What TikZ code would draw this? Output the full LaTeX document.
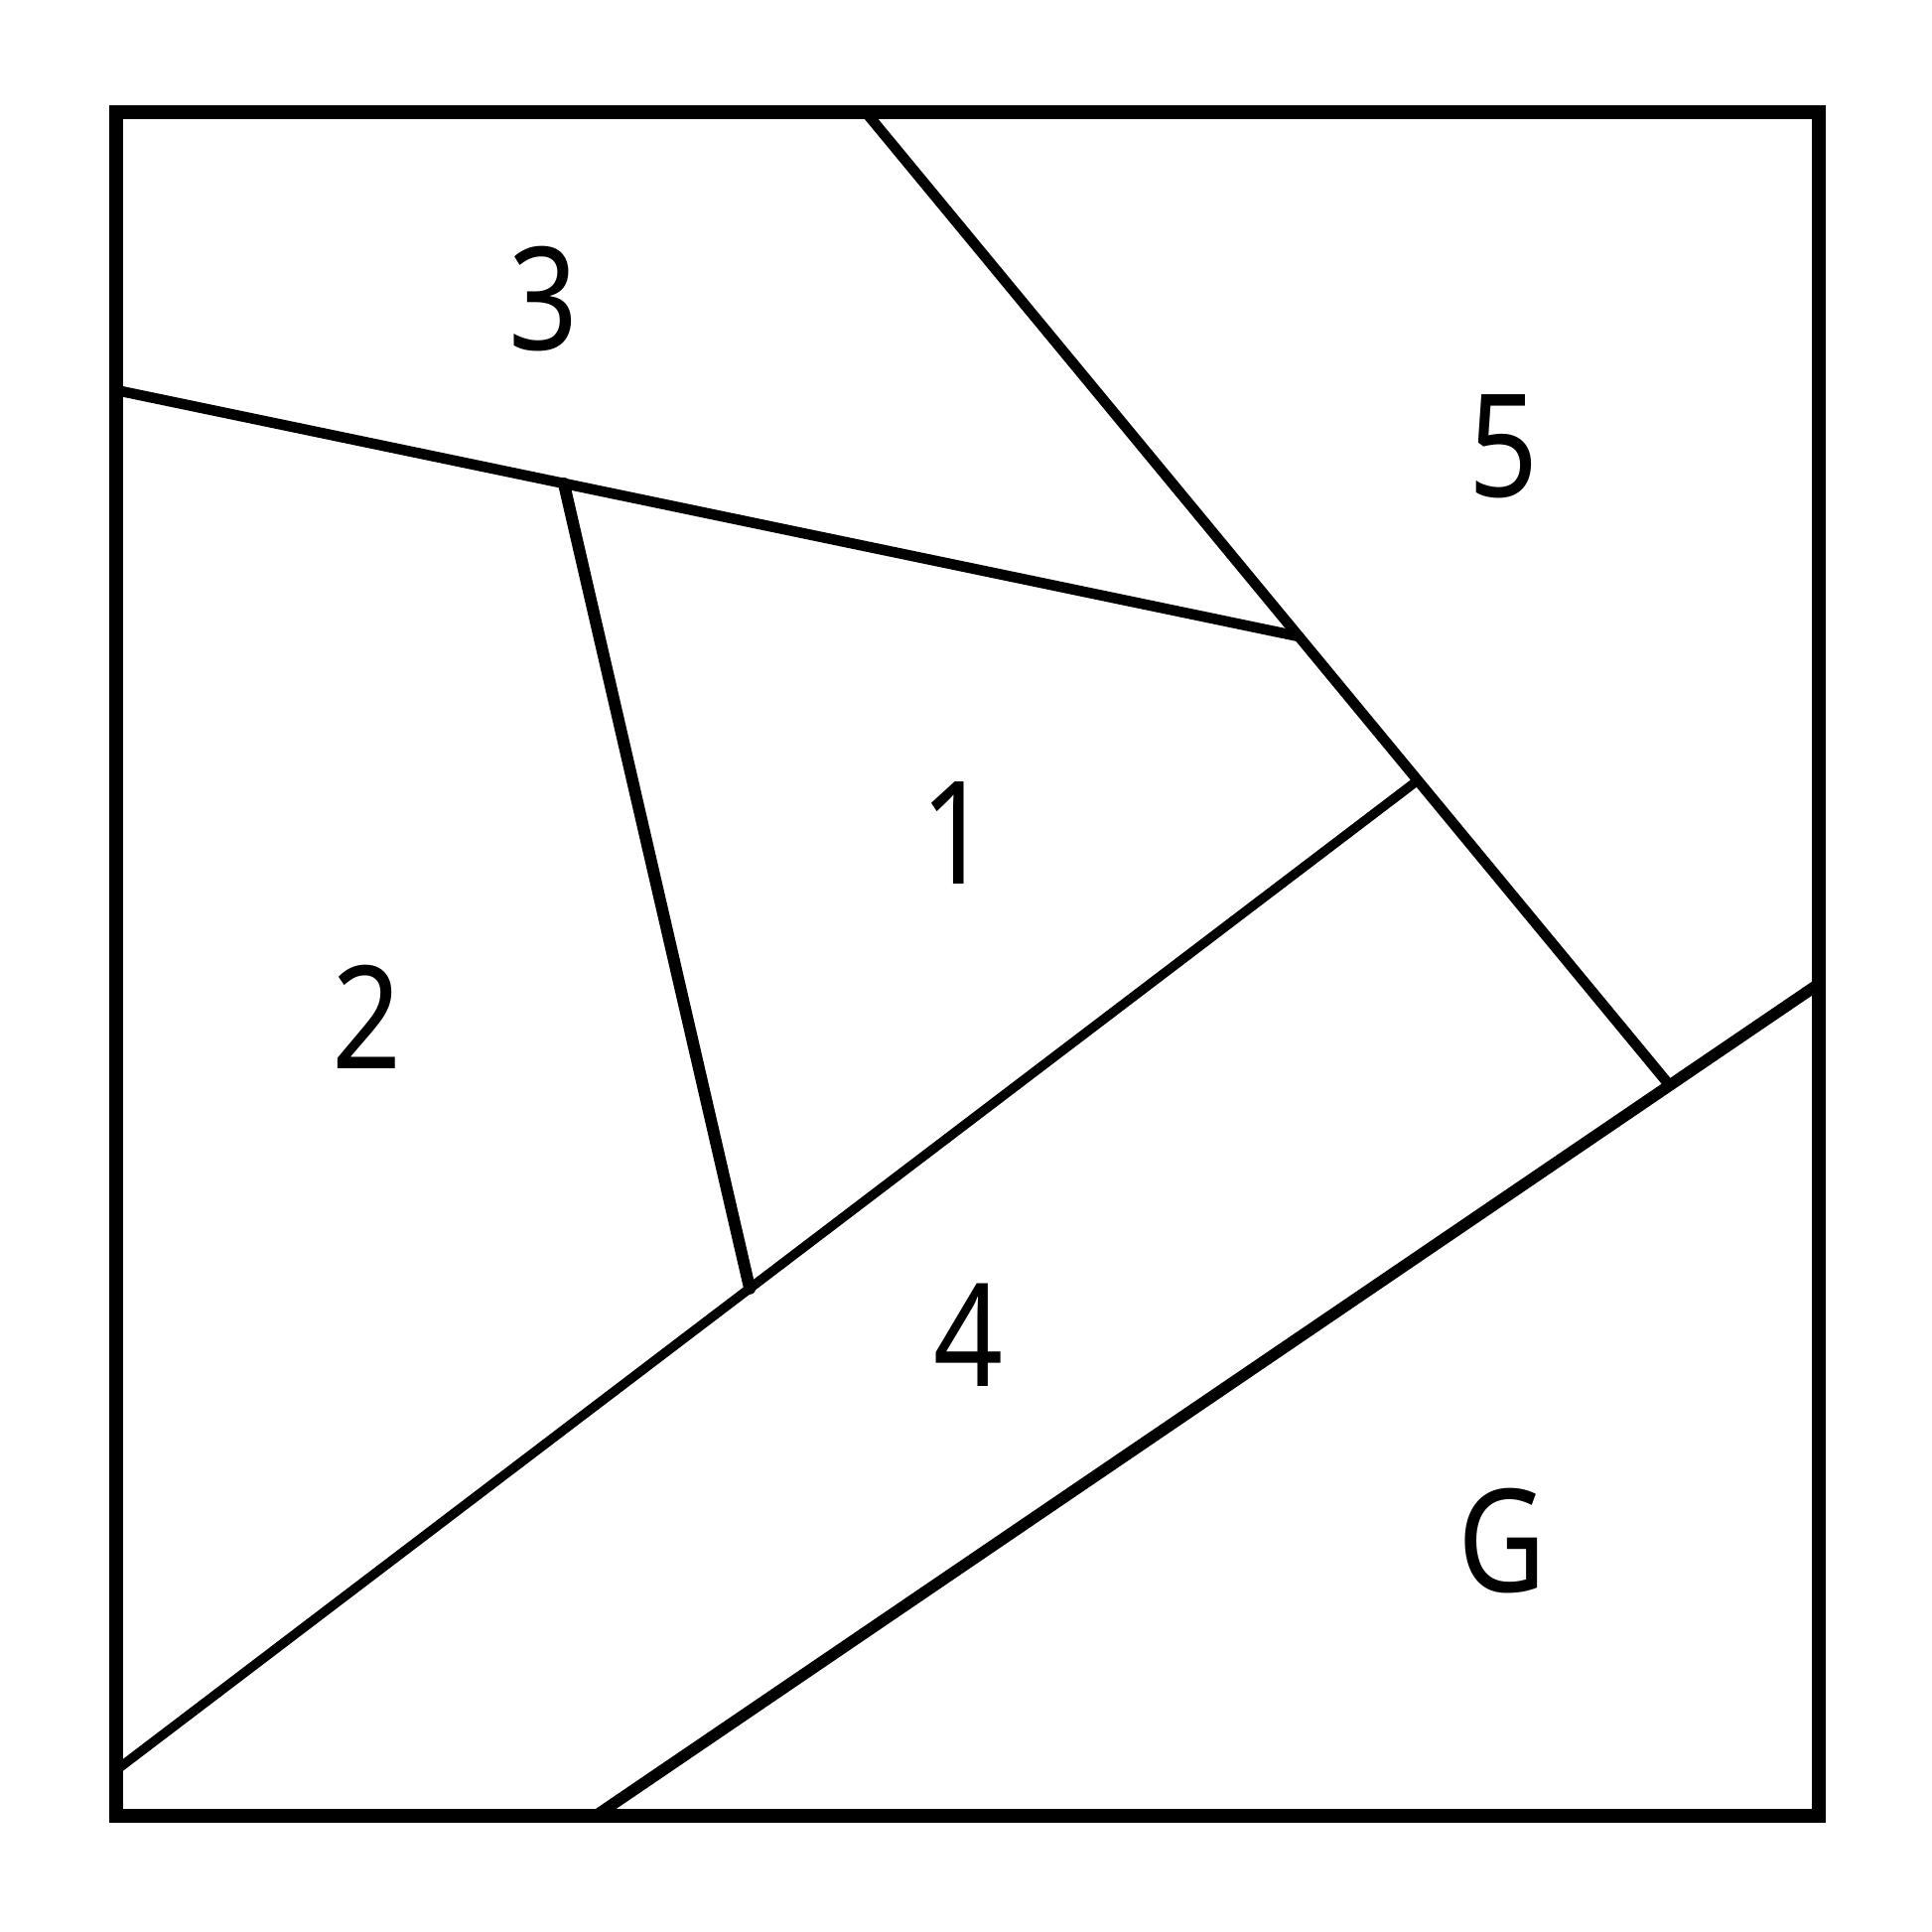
\documentclass[tikz,border=0pt]{standalone}
\usepackage{fontspec}
\usepackage{graphicx}
\setmainfont{Noto Sans}
\tikzset{
  frameline/.style={line width=4.2pt, line cap=round, line join=miter},
  seamline/.style={line width=3pt, line cap=round},
  patchlabel/.style={inner sep=0pt, font=\fontsize{41}{41}\selectfont}
}
\begin{document}
\begin{tikzpicture}[x=0.01cm, y=-0.01cm]
\useasboundingbox (0,0) rectangle (1946,1946);
% frame corners
\coordinate (tl) at (117,113);
\coordinate (tr) at (1832,113);
\coordinate (br) at (1832,1829);
\coordinate (bl) at (117,1829);
% seam end points
\coordinate (aTop) at (872,113);
\coordinate (bLeft) at (117,393);
\coordinate (dLeft) at (117,1783);
\coordinate (eBot) at (600,1829);
\coordinate (eRight) at (1832,991);
\coordinate (aDir) at (1674,1084);
% junctions
\coordinate (jAB) at (intersection of aTop--aDir and bLeft--1303,640);
\coordinate (jAD) at (intersection of aTop--aDir and dLeft--1425,788);
\coordinate (jAE) at (intersection of aTop--aDir and eBot--eRight);
\coordinate (jCB) at (intersection of bLeft--jAB and 564,470--754,1293);
\coordinate (jCD) at (intersection of dLeft--jAD and 564,470--754,1293);
% seams
\draw[seamline] (aTop) -- (jAE);
\draw[seamline] (bLeft) -- (jAB);
\draw[seamline, line width=3.4pt] (jCB) -- (jCD);
\draw[seamline, line width=2.7pt] (dLeft) -- (jAD);
\draw[seamline, line width=3.3pt] (eBot) -- (eRight);
% frame
\draw[frameline] (tl) -- (tr) -- (br) -- (bl) -- cycle;
% labels
\node[patchlabel] (n3) at (548,301) {\scalebox{0.85}[1]{3}};
\node[patchlabel] (n5) at (1515,450) {\scalebox{0.85}[1]{5}};
\node[patchlabel] (n1) at (963,839) {\scalebox{0.85}[1]{1}};
\node[patchlabel] (n2) at (370,1024) {\scalebox{0.85}[1]{2}};
\node[patchlabel] (n4) at (976,1345) {\scalebox{0.85}[1]{4}};
\node[patchlabel] (nG) at (1513,1552) {\scalebox{0.85}[1]{G}};
\end{tikzpicture}
\end{document}
